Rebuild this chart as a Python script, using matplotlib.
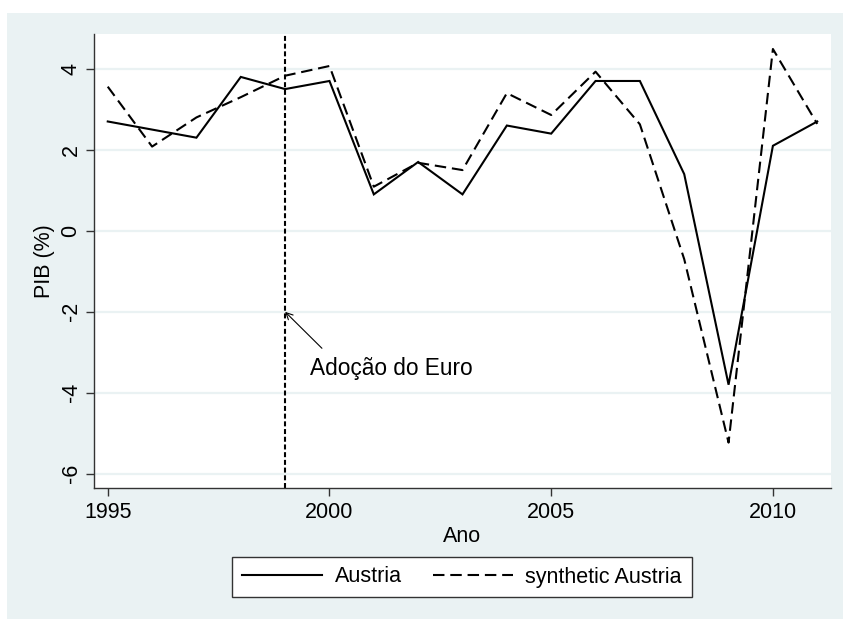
import matplotlib
matplotlib.use("Agg")
import matplotlib.pyplot as plt
from matplotlib.patches import Rectangle

# GDP growth, Austria vs. synthetic control
years = list(range(1995, 2012))
austria = [2.7, 2.5, 2.3, 3.8, 3.5, 3.7, 0.9, 1.7, 0.9, 2.6, 2.4, 3.7, 3.7, 1.4, -3.8, 2.1, 2.7]
synthetic = [3.56, 2.08, 2.8, 3.3, 3.83, 4.07, 1.09, 1.68, 1.5, 3.4, 2.86, 3.93, 2.63, -0.7, -5.23, 4.49, 2.64]

x_ticks = [1995, 2000, 2005, 2010]
y_ticks = [-6, -4, -2, 0, 2, 4]
euro_year = 1999
annot_point = -2
annot_text = "Adoção do Euro"
series_names = ["Austria", "synthetic Austria"]

plt.rcParams['font.family'] = ['Liberation Sans', 'DejaVu Sans']

W, H = 843, 619
fig = plt.figure(figsize=(W / 100, H / 100), dpi=100, facecolor="white")

bg = "#EAF2F3"
fig.patches.append(Rectangle((7 / W, 0), 1 - 7 / W, (H - 13) / H,
                             transform=fig.transFigure, facecolor=bg,
                             edgecolor="none", zorder=-10))

left, right, top, bottom = 94, 831, 34, 488
ax = fig.add_axes([left / W, (H - bottom) / H, (right - left) / W, (bottom - top) / H])
ax.set_facecolor("white")

ax.set_xlim(1994.69, 2011.31)
ax.set_ylim(-6.35, 4.86)

for yv in y_ticks:
    ax.axhline(yv, color=bg, lw=1.6, zorder=1)

ln1, = ax.plot(years, austria, color="black", lw=1.5, solid_joinstyle="miter", zorder=3)
ln2, = ax.plot(years, synthetic, color="black", lw=1.5, linestyle=(0, (5.5, 2.8)), zorder=3)

ax.axvline(euro_year, color="black", lw=1.5, linestyle=(0, (2.4, 1.3)), zorder=2)

# arrow pointing at the euro adoption line, with its caption below
ax.annotate("", xy=(euro_year, annot_point), xytext=(1999.83, -2.90),
            arrowprops=dict(arrowstyle="->", color="black", lw=0.8,
                            shrinkA=0, shrinkB=0, mutation_scale=12),
            zorder=4)
ax.text(1999.56, -3.40, annot_text, fontsize=16.3, ha="left", va="center", zorder=4)

ax.set_xticks(x_ticks)
ax.set_yticks(y_ticks)
ax.set_yticklabels([str(v) for v in y_ticks], rotation=90, va="center")
ax.tick_params(axis="both", labelsize=15.5, length=6, width=1, color="#333333")
ax.tick_params(axis="x", pad=4)
ax.tick_params(axis="y", pad=3)

for s in ["top", "right"]:
    ax.spines[s].set_visible(False)
for s in ["left", "bottom"]:
    ax.spines[s].set_color("#333333")
    ax.spines[s].set_linewidth(1.0)

ax.set_xlabel("Ano", fontsize=15.5, labelpad=2)
ax.set_ylabel("PIB (%)", fontsize=15.5, labelpad=4)

leg = fig.legend([ln1, ln2], series_names, loc="center",
                 bbox_to_anchor=(462 / W, (H - 577) / H), ncol=2,
                 fontsize=15.5, frameon=True, fancybox=False,
                 edgecolor="#333333", facecolor="white", framealpha=1,
                 handlelength=3.7, handletextpad=0.6, columnspacing=1.45,
                 borderpad=0.45)
leg.get_frame().set_linewidth(1.0)

fig.savefig("out.png", dpi=100, facecolor="white")
